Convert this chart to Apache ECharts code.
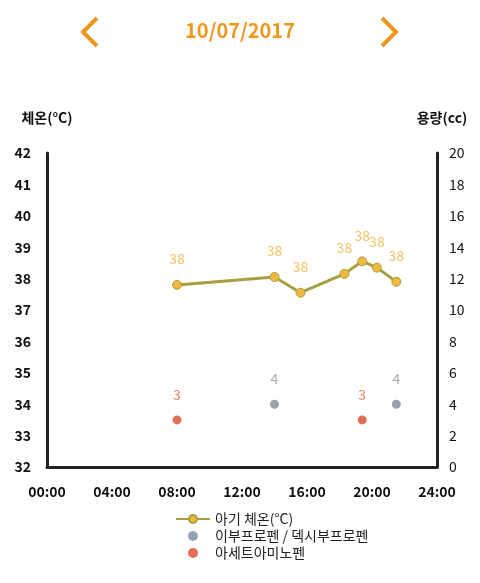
<!DOCTYPE html>
<html>
<head>
<meta charset="utf-8">
<script src="https://cdn.jsdelivr.net/npm/echarts@6/dist/echarts.min.js"></script>
<style>
body { margin: 0; background: #fff; font-family: "Noto Sans CJK KR", sans-serif; }
#main { position: absolute; top: 0; left: 0; width: 480px; height: 583px; }
</style>
</head>
<body>
<div id="main"></div>
<script>
// hours of day, values
var tempTimes = [8, 14, 15.6, 18.3, 19.4, 20.3, 21.5];
var tempValues = [37.8, 38.05, 37.55, 38.15, 38.55, 38.35, 37.9];
var tempLabels = [38, 38, 38, 38, 38, 38, 38];
var ibuTimes = [14, 21.5];
var ibuValues = [4, 4];
var aceTimes = [8, 19.4];
var aceValues = [3, 3];
var dateText = "10/07/2017";

function pairs(xs, ys) {
  return xs.map(function (x, i) { return [x, ys[i]]; });
}
function hh(v) { return (v < 10 ? "0" : "") + v + ":00"; }

var myChart = echarts.init(document.getElementById("main"));
var font = "Noto Sans CJK KR";
myChart.setOption({
  backgroundColor: "#ffffff",
  textStyle: { fontFamily: font },
  graphic: [
    { type: "text", left: "center", top: 20, style: { text: dateText, fill: "#f0961e", font: "bold 20px " + font } },
    { type: "polyline", shape: { points: [[97, 18], [83, 32], [97, 46]] }, style: { stroke: "#f0961e", lineWidth: 4, fill: null } },
    { type: "polyline", shape: { points: [[382, 18], [396, 32], [382, 46]] }, style: { stroke: "#f0961e", lineWidth: 4, fill: null } }
  ],
  legend: {
    orient: "vertical",
    left: 170,
    top: 507,
    itemGap: 3,
    itemWidth: 34,
    itemHeight: 10,
    textStyle: { fontSize: 14, color: "#222" },
    data: ["아기 체온(°C)", "이부프로펜 / 덱시부프로펜", "아세트아미노펜"]
  },
  grid: { left: 47, right: 43, top: 153, bottom: 116 },
  xAxis: {
    type: "value", min: 0, max: 24, interval: 4,
    axisLine: { lineStyle: { color: "#222", width: 3 } },
    axisTick: { show: false },
    splitLine: { show: false },
    axisLabel: { formatter: hh, color: "#111", fontWeight: "bold", fontSize: 14, margin: 18 }
  },
  yAxis: [
    {
      type: "value", min: 32, max: 42, interval: 1,
      name: "체온(°C)", nameGap: 28, nameTextStyle: { fontSize: 14, color: "#111", fontWeight: "bold", align: "center", padding: [0, 0, 0, 0] },
      axisLine: { show: true, lineStyle: { color: "#222", width: 3 } },
      axisTick: { show: false }, splitLine: { show: false },
      axisLabel: { color: "#111", fontWeight: "bold", fontSize: 14, margin: 16 }
    },
    {
      type: "value", min: 0, max: 20, interval: 2,
      name: "용량(cc)", nameGap: 28, nameTextStyle: { fontSize: 14, color: "#111", fontWeight: "bold", align: "center", padding: [0, 0, 0, 10] },
      axisLine: { show: true, lineStyle: { color: "#222", width: 3 } },
      axisTick: { show: false }, splitLine: { show: false },
      axisLabel: { color: "#111", fontSize: 14, margin: 12 }
    }
  ],
  series: [
    {
      name: "아기 체온(°C)", type: "line", yAxisIndex: 0,
      data: pairs(tempTimes, tempValues),
      symbol: "circle", symbolSize: 9,
      lineStyle: { color: "#a8a040", width: 3 },
      itemStyle: { color: "#f0b840", borderColor: "#a8a040", borderWidth: 1 },
      label: { show: true, position: "top", distance: 14, color: "#f0c060", fontSize: 14,
        formatter: function (p) { return tempLabels[p.dataIndex]; } }
    },
    {
      name: "이부프로펜 / 덱시부프로펜", type: "scatter", yAxisIndex: 1,
      data: pairs(ibuTimes, ibuValues), symbolSize: 9,
      itemStyle: { color: "#7f8c99" },
      label: { show: true, position: "top", distance: 14, color: "#8a9aaa", fontSize: 14, formatter: function (p) { return p.value[1]; } }
    },
    {
      name: "아세트아미노펜", type: "scatter", yAxisIndex: 1,
      data: pairs(aceTimes, aceValues), symbolSize: 9,
      itemStyle: { color: "#e04a2a" },
      label: { show: true, position: "top", distance: 14, color: "#e86040", fontSize: 14, formatter: function (p) { return p.value[1]; } }
    }
  ]
});
</script>
</body>
</html>
